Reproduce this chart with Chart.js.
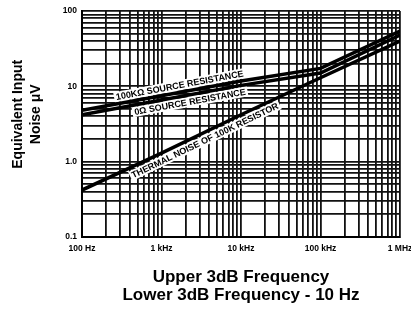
<!DOCTYPE html>
<html>
<head>
<meta charset="utf-8">
<script src="https://cdn.jsdelivr.net/npm/chart.js@4.4.1/dist/chart.umd.min.js"></script>
<style>
html, body { margin: 0; padding: 0; background: #fff; }
#wrap { width: 411px; height: 309px; }
</style>
</head>
<body>
<div id="wrap"><canvas id="grafico"></canvas></div>
<script>
const frequencies = [100, 1000, 10000, 100000, 1000000];
const noise100k = [4.8, 7.5, 11.8, 17.3, 54];
const noise0 = [4.2, 6.6, 10.3, 15, 48];
const thermalNoise = [0.42, 1.3, 4.2, 13, 40];
const freqLabels = ['100 Hz', '1 kHz', '10 kHz', '100 kHz', '1 MHz'];
const noiseLabels = ['0.1', '1.0', '10', '100'];
const seriesNames = ['100KΩ SOURCE RESISTANCE', '0Ω SOURCE RESISTANCE', 'THERMAL NOISE OF 100K RESISTOR'];

const FONT = '"Liberation Sans", Arial, sans-serif';
Chart.defaults.font.family = FONT;
Chart.defaults.color = '#000';

function toPoints(values) {
    return frequencies.map((f, i) => ({ x: f, y: values[i] }));
}

// log paper: lines at 1..9 of every decade
function decadeTicks(min, max) {
    let ticks = [];
    for (let e = Math.round(Math.log10(min)); e < Math.round(Math.log10(max)); e++) {
        for (let m = 1; m <= 9; m++) ticks.push({ value: m * Math.pow(10, e) });
    }
    ticks.push({ value: max });
    return ticks;
}

function decadeIndex(value, min) {
    let l = Math.log10(value);
    if (Math.abs(l - Math.round(l)) > 1e-6) return -1;
    return Math.round(l) - Math.round(Math.log10(min));
}

// where each text sits along its line (Hz) and how far off the line (px)
const lineLabels = [
    { dataset: 0, at: 1760, offset: -7 },
    { dataset: 1, at: 2200, offset: 7 },
    { dataset: 2, at: 3200, offset: 7.5 }
];

const labelsOnLines = {
    id: 'labelsOnLines',
    beforeDatasetsDraw(chart) {
        const { ctx, scales: { x, y } } = chart;
        ctx.save();
        ctx.font = 'bold 9px ' + FONT;
        ctx.textAlign = 'center';
        ctx.textBaseline = 'middle';
        lineLabels.forEach(l => {
            const pts = chart.data.datasets[l.dataset].data;
            let i = 0;
            while (i < pts.length - 2 && pts[i + 1].x < l.at) i++;
            const x1 = x.getPixelForValue(pts[i].x), y1 = y.getPixelForValue(pts[i].y);
            const x2 = x.getPixelForValue(pts[i + 1].x), y2 = y.getPixelForValue(pts[i + 1].y);
            const px = x.getPixelForValue(l.at);
            const py = y1 + (px - x1) / (x2 - x1) * (y2 - y1);
            const text = chart.data.datasets[l.dataset].label;
            const w = ctx.measureText(text).width;
            ctx.save();
            ctx.translate(px, py);
            ctx.rotate(Math.atan2(y2 - y1, x2 - x1));
            ctx.fillStyle = '#fff';
            ctx.fillRect(-w / 2 - 2, l.offset - 5, w + 4, 10);
            ctx.fillStyle = '#000';
            ctx.fillText(text, 0, l.offset + 0.5);
            ctx.restore();
        });
        ctx.restore();
    }
};

const gridStyle = { color: '#111', lineWidth: 1.8, drawTicks: false };
const borderStyle = { color: '#000', width: 2 };

const chart = new Chart(document.getElementById('grafico'), {
    type: 'line',
    data: {
        datasets: [
            { label: seriesNames[0], data: toPoints(noise100k) },
            { label: seriesNames[1], data: toPoints(noise0) },
            { label: seriesNames[2], data: toPoints(thermalNoise) }
        ]
    },
    options: {
        responsive: true,
        maintainAspectRatio: false,
        animation: false,
        devicePixelRatio: 1,
        layout: { padding: { top: 11, right: 11, bottom: 0, left: 0 } },
        elements: {
            point: { radius: 0 },
            line: { borderColor: '#000', borderWidth: 3.5, tension: 0 }
        },
        plugins: { legend: { display: false }, tooltip: { enabled: false } },
        scales: {
            x: {
                type: 'logarithmic',
                min: 100,
                max: 1000000,
                grid: gridStyle,
                border: borderStyle,
                afterBuildTicks: s => { s.ticks = decadeTicks(100, 1000000); },
                afterFit: s => {
                    s.height = 72;
                    s.paddingLeft = 0; s.paddingRight = 0;
                },
                ticks: {
                    autoSkip: false,
                    maxRotation: 0,
                    padding: 7,
                    font: { size: 8.5, weight: 'bold' },
                    callback: v => {
                        const i = decadeIndex(v, 100);
                        return i >= 0 ? freqLabels[i] : '';
                    }
                },
                title: {
                    display: true,
                    text: ['Upper 3dB Frequency', 'Lower 3dB Frequency - 10 Hz'],
                    font: { size: 17, weight: 'bold', lineHeight: '18px' },
                    padding: { top: 0, bottom: 5 }
                }
            },
            y: {
                type: 'logarithmic',
                min: 0.1,
                max: 100,
                grid: gridStyle,
                border: borderStyle,
                afterBuildTicks: s => { s.ticks = decadeTicks(0.1, 100); },
                afterFit: s => {
                    s.width = 82;
                    s.paddingTop = 0; s.paddingBottom = 0;
                },
                ticks: {
                    autoSkip: false,
                    padding: 5,
                    font: { size: 8.5, weight: 'bold' },
                    callback: v => {
                        const i = decadeIndex(v, 0.1);
                        return i >= 0 ? noiseLabels[i] : '';
                    }
                },
                title: {
                    display: true,
                    // leading spaces lift the title a little above centre, as in the original
                    text: ['     Equivalent Input', '     Noise μV'],
                    font: { size: 14, weight: 'bold', lineHeight: '18px' },
                    padding: { top: 9.5, bottom: 0 }
                }
            }
        }
    },
    plugins: [labelsOnLines]
});
</script>
</body>
</html>
